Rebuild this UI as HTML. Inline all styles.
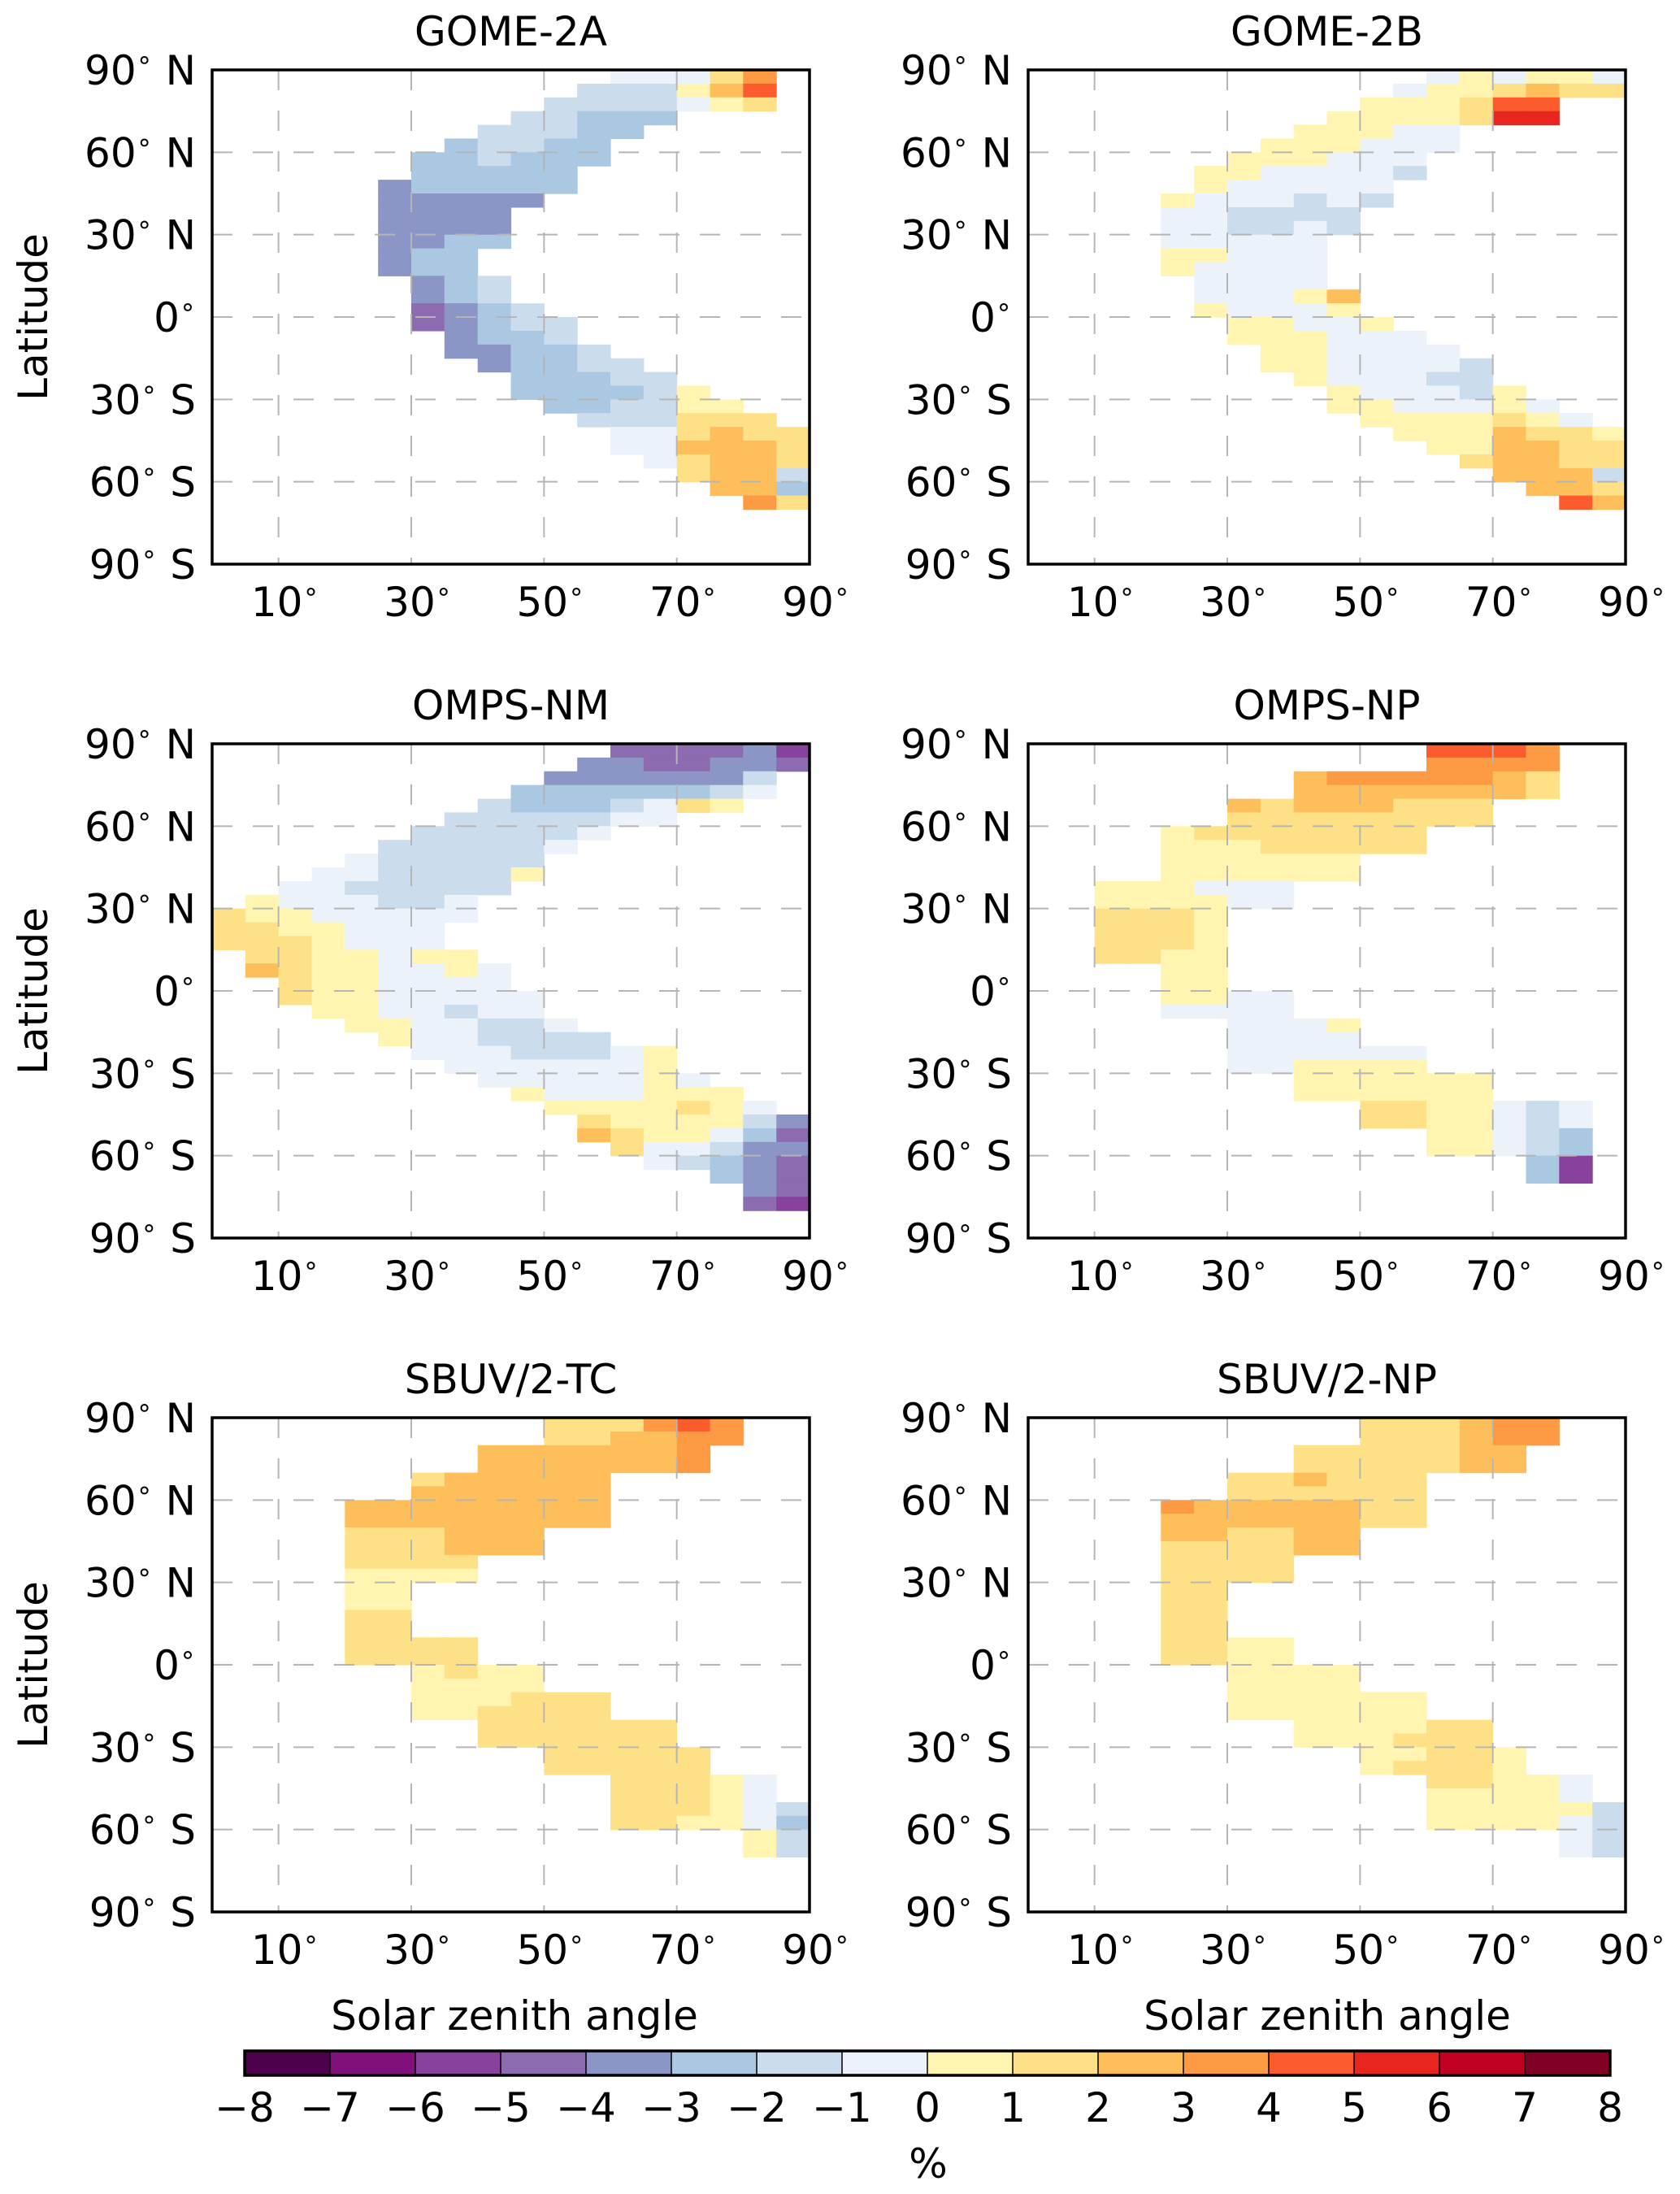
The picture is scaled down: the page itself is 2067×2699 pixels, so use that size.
<!DOCTYPE html>
<html><head><meta charset="utf-8"><style>
html,body{margin:0;padding:0;background:#fff;}
svg{display:block;font-family:"DejaVu Sans","Liberation Sans",sans-serif;}
</style></head><body>
<svg id="fig" width="2067" height="2699" viewBox="0 0 2067 2699" xmlns="http://www.w3.org/2000/svg"></svg>
<script>
// ---- data: rows = [rowIndex (lat band 90-5j .. 85-5j), startCol (SZA 5*c), values...] ----
const panelTitles = ["GOME-2A","GOME-2B","OMPS-NM","OMPS-NP","SBUV/2-TC","SBUV/2-NP"];
const gome2a = [
[0,12,-0.5,-0.5,-0.5,1,3],[1,11,-1.5,-1.5,-1.5,0,2.5,4.5],[2,10,-1.5,-1.5,-2,-2,-0.5,0.5,1.5],
[3,9,-1.5,-1.5,-2.5,-2.5,-2.5],[4,8,-1.5,-1.5,-2,-2.5,-2.5],[5,7,-2.5,-1.5,-2,-2.5,-2.5],
[6,6,-2.5,-2.5,-1.5,-2.5,-2.5,-2.5],[7,6,-2.5,-2.5,-2.5,-2.5,-2.5],[8,5,-3.5,-2.5,-2.5,-2.5,-2.5,-2.5],
[9,5,-3.5,-3.5,-3.5,-3.5,-3.5],[10,5,-3.5,-3.5,-3.5,-3.5],[11,5,-3.5,-3.5,-3.5,-3.5],
[12,5,-3.5,-3.5,-2.5,-2.5],[13,5,-3.5,-2.5,-2.5],[14,5,-3.5,-2.5,-2.5],[15,6,-3.5,-2.5,-1.5],
[16,6,-3.5,-3,-2],[17,6,-4.5,-3.5,-2.5,-1.5],[18,6,-4.5,-3.5,-2.5,-1.5,-1.5],[19,7,-3.5,-3,-2.5,-1.5],
[20,7,-3.5,-3.5,-2.5,-2.5,-1.5],[21,8,-3.5,-2.5,-2.5,-1.5,-1.5],[22,9,-2.5,-2.5,-2.5,-1.5,-1.5],
[23,9,-2.5,-2.5,-2.5,-2.5,-1.5,0.5],[24,10,-2.5,-2.5,-2,-1.5,0.5,0.5],[25,11,-1.5,-1.5,-1.5,1.5,1.5,1.5],
[26,12,-0.5,-0.5,1.5,2.5,1.5,1.5],[27,12,-0.5,-0.5,2,2.5,2,1.5],[28,13,-0.5,1.5,2,2.5,1],
[29,14,1.5,2.5,2,-1.5],[30,15,2.5,2.5,-3],[31,16,3,1.5]];
const gome2b = [
[0,12,-0.5,0,-0.5,0.5,0.5,-0.5],[1,11,-0.5,0.5,0.5,1.5,2,1.5,1.5],[2,10,0.5,0.5,0.5,1.5,4.5,4.5],
[3,9,0.5,0.5,0.5,0.5,1,5.5,5.5],[4,8,0.5,0.5,0.5,-0.5,-0.5],[5,7,0.5,0.5,0.5,-0.5,-0.5,-0.5],
[6,6,0.5,0.5,0.5,-0.5,-0.5,-0.5],[7,5,0.5,0.5,-0.5,-0.5,-0.5,-0.5,-1.5],[8,5,0.5,-0.5,-0.5,-0.5,-0.5,-0.5],
[9,4,0.5,-0.5,-0.5,-0.5,-1.5,-0.5,-1.5],[10,4,-0.5,-0.5,-1.5,-1.5,-1.5,-1.5],[11,4,-0.5,-0.5,-1.5,-1.5,-1,-1.5],
[12,4,-0.5,-0.5,-0.5,-0.5,-0.5],[13,4,0.5,0.5,-0.5,-0.5,-0.5],[14,4,0.5,-0.5,-0.5,-0.5,-0.5],
[15,5,-0.5,-0.5,-0.5,-0.5],[16,5,-0.5,-0.5,-0.5,0.5,2.5],[17,5,0.5,-0.5,-0.5,-0.5,0.5],
[18,6,0.5,0.5,-0.5,-0.5,0.5],[19,6,0.5,0.5,0.5,-0.5,-0.5,-0.5],[20,7,0.5,0.5,-0.5,-0.5,-0.5,-0.5],
[21,7,0.5,0.5,-0.5,-0.5,-0.5,-0.5,-1.5],[22,8,0.5,-0.5,-0.5,-0.5,-1.5,-1.5],[23,9,0.5,-0.5,-0.5,-0.5,-1.5,0],
[24,9,0.5,0.5,-0.5,-0.5,-0.5,0,-0.5],[25,10,0.5,0.5,0.5,0.5,1.5,0.5,-0.5],[26,11,0.5,0.5,0.5,2,1.5,1.5,0.5],
[27,12,0.5,0.5,2.5,2,1.5,1],[28,13,1.5,2.5,2.5,1.5,1.5],[29,14,2.5,2.5,2,-2],[30,15,2.5,2.5,1.5],[31,16,4,2]];
const ompsNM = [
[0,12,-4.5,-4.5,-4.5,-4.5,-3.5,-6],[1,11,-3.5,-4,-4.5,-4.5,-3.5,-3.5,-5],[2,10,-3.5,-3.5,-3.5,-3.5,-3.5,-3.5,-2],
[3,9,-2.5,-2.5,-2.5,-3,-3,-2.5,-1.5,-0.5],[4,8,-1.5,-2.5,-2.5,-2.5,-2,-0.5,1.5,0.5],[5,7,-1.5,-1.5,-1.5,-1.5,-1.5,-0.5,-0.5],
[6,6,-1.5,-1.5,-1.5,-1.5,-1.5,-0.5],[7,5,-1.5,-1.5,-1.5,-1.5,-1.5,-0.5],[8,4,-0.5,-1.5,-1.5,-1.5,-1.5,-1.5],
[9,3,-0.5,-0.5,-1.5,-1.5,-1.5,-1.5,0],[10,2,-0.5,-0.5,-1.5,-1.5,-1.5,-1.5,-1.5],[11,1,0,-0.5,-0.5,-1,-1.5,-1.5,-1],
[12,0,1.5,0.5,0.5,-0.5,-0.5,-0.5,-0.5,-0.5],[13,0,1.5,1.5,0.5,0.5,-0.5,-0.5,-0.5],[14,0,1.5,1.5,1,0.5,-0.5,-0.5,-0.5],
[15,1,1.5,1.5,0.5,0.5,-0.5,0.5,0.5],[16,1,2.5,1.5,0.5,0.5,-0.5,-0.5,0.5,-0.5],[17,2,1.5,0.5,0.5,-0.5,-0.5,-0.5,-0.5],
[18,2,1.5,0.5,0.5,-0.5,-0.5,-0.5,-0.5,-0.5],[19,3,0.5,0.5,-0.5,-0.5,-1.5,-0.5,-0.5],[20,4,0.5,0.5,-0.5,-0.5,-1.5,-1.5,-0.5],
[21,5,0.5,-0.5,-0.5,-1.5,-1.5,-1.5,-1.5],[22,6,-0.5,-0.5,-0.5,-1.5,-1.5,-1.5,-0.5,0.5],[23,7,-0.5,-0.5,-0.5,-0.5,-0.5,-0.5,0.5],
[24,8,-0.5,-0.5,-0.5,-0.5,-0.5,0.5,-0.5],[25,9,0.5,-0.5,-0.5,-0.5,0.5,0.5,0.5],[26,10,0.5,0.5,0.5,0.5,1,0.5,-1],
[27,11,1.5,0.5,0.5,0.5,0.5,-1.5,-3.5],[28,11,2.5,1.5,0.5,0.5,-0.5,-2.5,-4.5],[29,12,1.5,-0.5,-0.5,-1.5,-3.5,-4],
[30,13,-0.5,-1.5,-2.5,-3.5,-4.5],[31,15,-2.5,-3.5,-4.5],[32,16,-3.5,-5],[33,16,-4.5,-6]];
const ompsNP = [
[0,12,4.5,4.5,4.5,3],[1,12,3.5,3.5,3.5,3],[2,8,2.5,3,3.5,3.5,3.5,3,2.5,1],[3,8,2.5,2.5,2.5,2.5,2.5,2.5,2.5,1],
[4,6,2.5,1.5,2,2,2,1.5,1.5,1.5],[5,6,1.5,1.5,1.5,1.5,1.5,1.5,1.5,1.5],[6,4,0.5,1,1.5,1.5,1.5,1.5,1.5,1.5],
[7,4,0.5,0.5,0.5,1,1.5,1.5,1.5,1.5],[8,4,0.5,0.5,0.5,0.5,0.5,0.5],[9,4,0.5,0.5,0.5,0.5,0.5,0.5],
[10,2,0.5,0,0,-0.5,-0.5,-0.5],[11,2,0.5,0.5,0.5,0.5,-0.5,-0.5],[12,2,1.5,1.5,1.5,0.5],[13,2,1.5,1.5,1.5,0.5],
[14,2,1.5,1.5,1,0.5],[15,2,1.5,1.5,0.5,0.5],[16,4,0.5,0.5],[17,4,0.5,0.5],[18,4,0.5,0.5,-0.5,-0.5],
[19,4,-0.5,-0.5,-0.5,-0.5],[20,6,-0.5,-0.5,-0.5,0.5],[21,6,-0.5,-0.5,-0.5,-0.5],[22,6,-0.5,-0.5,-0.5,-0.5,-0.5,-0.5],
[23,6,-0.5,-0.5,0,0.5,0,0],[24,8,0.5,0.5,0.5,0.5,0.5,0.5],[25,8,0.5,0.5,0.5,0.5,0.5,0.5],
[26,10,1.5,1.5,0.5,0.5,-0.5,-1.5,-0.5],[27,10,1.5,1.5,0.5,0.5,-0.5,-1.5,-1],[28,12,0.5,0.5,-0.5,-1.5,-2.5],
[29,12,0.5,0.5,-0.5,-1.5,-2.5],[30,15,-3,-5.5],[31,15,-2.5,-5.5]];
const sbuvTC = [
[0,10,1.5,1.5,1.5,3,4.5,3.5],[1,10,1.5,1.5,2,2.5,3.5,3.5],[2,8,2.5,2.5,2.5,2.5,2.5,2.5,3.5],[3,8,2.5,2.5,2.5,2.5,2.5,2.5,3.5],
[4,6,1.5,2.5,2.5,2.5,2.5,2.5],[5,6,2.5,2.5,2.5,2.5,2.5,2.5],[6,4,2.5,2.5,2.5,2.5,2.5,2.5,2.5,2.5],[7,4,2.5,2.5,2.5,2.5,2.5,2.5,2.5,2.5],
[8,4,1.5,1.5,1.5,2.5,2.5,2.5],[9,4,1.5,1.5,1.5,2.5,2.5,2.5],[10,4,1.5,1.5,1.5,1.5],[11,4,0.5,0.5,0.5,0.5],
[12,4,0.5,0.5],[13,4,0.5,0.5],[14,4,1.5,1.5],[15,4,1.5,1.5],[16,4,1.5,1.5,1.5,1.5],[17,4,1.5,1.5,1.5,1.5],
[18,6,0.5,1,0.5,0.5],[19,6,0.5,0.5,0.5,0.5],[20,6,0.5,0.5,0.5,1.5,1.5,1.5],[21,6,0.5,0.5,1,1.5,1.5,1.5],
[22,8,1.5,1.5,1.5,1.5,1.5,1.5],[23,8,1.5,1.5,1.5,1.5,1.5,1.5],[24,10,1.5,1.5,1.5,1.5,1.5],[25,10,1.5,1.5,1.5,1.5,1.5],
[26,12,1.5,1.5,1.5,0.5,-0.5],[27,12,1.5,1.5,1.5,0.5,-0.5],[28,12,1.5,1.5,1,0.5,-0.5,-2],[29,12,1.5,1.5,0.5,0.5,-0.5,-2.5],
[30,16,0.5,-1.5],[31,16,0.5,-1.5]];
const sbuvNP = [
[0,10,1.5,1.5,1,2,3.5,3.5],[1,10,1.5,1.5,1.5,2.5,3.5,3.5],[2,8,1.5,1.5,1.5,1.5,1.5,2.5,2.5],[3,8,1.5,1.5,1.5,1.5,1.5,2.5,2.5],
[4,6,1.5,1.5,2,1.5,1.5,1.5],[5,6,1.5,1.5,1.5,1.5,1.5,1.5],[6,4,3.5,2.5,2.5,2.5,2.5,2.5,1.5,1.5],[7,4,2.5,2.5,2.5,2.5,2.5,2.5,1.5,1.5],
[8,4,2,2,1.5,1.5,2.5,2.5],[9,4,1.5,1.5,1.5,1.5,2.5,2.5],[10,4,1.5,1.5,1.5,1.5],[11,4,1.5,1.5,1.5,1.5],
[12,4,1.5,1.5],[13,4,1,1],[14,4,1.5,1.5],[15,4,1.5,1.5],[16,4,1.5,1.5,0.5,0.5],[17,4,1.5,1.5,0.5,0.5],
[18,6,0.5,0.5,0.5,0.5],[19,6,0.5,0.5,0.5,0.5],[20,6,0.5,0.5,0.5,0.5,0.5,0.5],[21,6,0.5,0.5,0.5,0.5,0.5,0.5],
[22,8,0.5,0.5,0.5,0.5,1.5,1.5],[23,8,0.5,0.5,0.5,1,1.5,1.5],[24,10,0.5,0.5,1.5,1.5,0.5],[25,10,0.5,1.5,1.5,1,0.5],
[26,12,1.5,1,0.5,0.5,-0.5],[27,12,0.5,0.5,0.5,0.5,-0.5],[28,12,0.5,0.5,0.5,0.5,0.5,-1.5],[29,12,0.5,0.5,0.5,0.5,-0.5,-1.5],
[30,16,-0.5,-1.5],[31,16,-0.5,-1.5]];
const panelData = [gome2a, gome2b, ompsNM, ompsNP, sbuvTC, sbuvNP];
const latTicks = [90,60,30,0,-30,-60,-90];
const latTickLabels = ["90","60","30","0","30","60","90"];
const latTickHemi = [" N"," N"," N",""," S"," S"," S"];
const szaTicks = [10,30,50,70,90];
const cbarLevels = [-8,-7,-6,-5,-4,-3,-2,-1,0,1,2,3,4,5,6,7,8];
const cbarColors = ["#4d004b","#810f7c","#88419d","#8c6bb1","#8c96c6","#abc8e2","#cbdcec","#ebf2f9",
  "#fff5b0","#fee187","#febf5a","#fd9a43","#fc5b2e","#e8251f","#c20024","#800026"];

// ---- layout ----
const NS="http://www.w3.org/2000/svg";
const svg=document.getElementById('fig');
const PW=735, PH=608, FS=50;
const origins=[[261,86],[1265,86],[261,915],[1265,915],[261,1744],[1265,1744]];
function mk(tag,attrs,parent){const e=document.createElementNS(NS,tag);for(const k in attrs)e.setAttribute(k,attrs[k]);(parent||svg).appendChild(e);return e;}
function colorFor(v){let i=Math.floor(v)+8;if(i<0)i=0;if(i>15)i=15;return cbarColors[i];}

panelData.forEach((rows,p)=>{
  const [ox,oy]=origins[p];
  const xs=s=>ox+s/90*PW;
  const ys=l=>oy+(90-l)/180*PH;
  const g=mk('g',{});
  
  
  const cells=mk('g',{},g);
  
  
  rows.forEach(r=>{
    const j=r[0], c0=r[1];
    for(let k=2;k<r.length;k++){
      const c=c0+k-2, v=r[k];
      const x0=xs(c*5), x1=xs(c*5+5), y0=ys(90-5*j), y1=ys(85-5*j);
      const rc=mk('rect',{x:x0.toFixed(1),y:y0.toFixed(1),width:(x1-x0+0.6).toFixed(1),height:(y1-y0+0.6).toFixed(1),fill:colorFor(v)},cells);
      
      
    }
  });
  szaTicks.slice(0,4).forEach(t=>{
    const l=mk('line',{x1:xs(t),x2:xs(t),y1:oy,y2:oy+PH,stroke:'#b5b5b5','stroke-width':2,'stroke-dasharray':'25,25'},g);
    
    
  });
  latTicks.slice(1,6).forEach(t=>{
    const l=mk('line',{x1:ox,x2:ox+PW,y1:ys(t),y2:ys(t),stroke:'#b5b5b5','stroke-width':2,'stroke-dasharray':'25,25'},g);
    
    
  });
  const fr=mk('rect',{x:ox,y:oy,width:PW,height:PH,fill:'none',stroke:'#000','stroke-width':3.5},g);
  
  
  const tt=mk('text',{x:ox+PW/2,y:oy-30,'font-size':FS,'text-anchor':'middle'},g);
  tt.textContent=panelTitles[p];
  
  
  latTicks.forEach((t,i)=>{
    const tx=mk('text',{x:ox-20,y:ys(t)+18,'font-size':FS,'text-anchor':'end'},g);
    
    
    tx.innerHTML=latTickLabels[i]+'<tspan font-size="32" dy="-20">∘</tspan><tspan dy="20">'+latTickHemi[i]+'</tspan>';
  });
  szaTicks.forEach(t=>{
    const tx=mk('text',{x:xs(t)+8,y:oy+PH+64,'font-size':FS,'text-anchor':'middle'},g);
    
    
    tx.innerHTML=t+'<tspan font-size="32" dy="-20">∘</tspan>';
  });
  if(p%2===0){
    const cy=oy+PH/2;
    const lt=mk('text',{x:58,y:cy,'font-size':FS,'text-anchor':'middle',transform:'rotate(-90 58 '+cy+')'},g);
    lt.textContent='Latitude';
    
    
  }
});

[[633,'x-axis-title-left'],[1633,'x-axis-title-right']].forEach(([x,n])=>{
  const t=mk('text',{x:x,y:2497,'font-size':FS,'text-anchor':'middle'});
  t.textContent='Solar zenith angle';
  
  
});

const CB={x0:301,x1:1981,y:2523,h:30};
const cbx=v=>CB.x0+(v-cbarLevels[0])/(cbarLevels[cbarLevels.length-1]-cbarLevels[0])*(CB.x1-CB.x0);
const cg=mk('g',{});


for(let i=0;i<cbarColors.length;i++){
  const r=mk('rect',{x:cbx(cbarLevels[i]),y:CB.y,width:cbx(cbarLevels[i+1])-cbx(cbarLevels[i])+0.5,height:CB.h,fill:cbarColors[i]},cg);
  
  
  if(i>0){const l=mk('line',{x1:cbx(cbarLevels[i]),x2:cbx(cbarLevels[i]),y1:CB.y,y2:CB.y+CB.h,stroke:'#000','stroke-width':1.5},cg);
    
    }
}
const cf=mk('rect',{x:CB.x0,y:CB.y,width:CB.x1-CB.x0,height:CB.h,fill:'none',stroke:'#000','stroke-width':3.5},cg);


cbarLevels.forEach(v=>{
  const t=mk('text',{x:cbx(v),y:2610,'font-size':FS,'text-anchor':'middle'},cg);
  t.textContent=(v<0?'\u2212':'')+Math.abs(v);
  
  
});
const pc=mk('text',{x:1142,y:2679,'font-size':FS,'text-anchor':'middle'});
pc.textContent='%';


</script>
</body></html>
